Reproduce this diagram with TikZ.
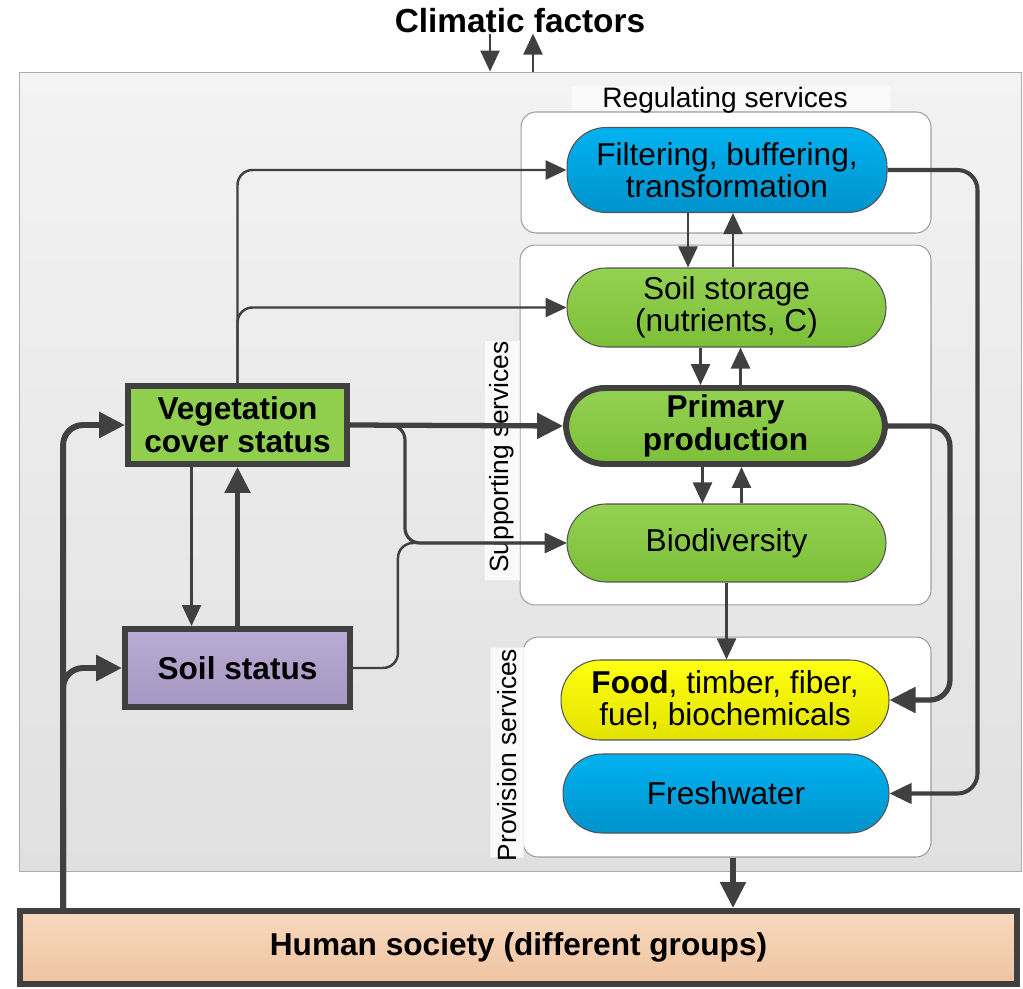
\documentclass[tikz,border=0pt]{standalone}
\usepackage{fontspec}
\setmainfont{Liberation Sans}
\usetikzlibrary{arrows.meta,calc}
\definecolor{ln}{HTML}{404040}
\definecolor{gtop}{HTML}{94D152}
\definecolor{gbot}{HTML}{7CBF38}
\definecolor{btop}{HTML}{00B2F0}
\definecolor{bbot}{HTML}{0093CC}
\definecolor{ytop}{HTML}{FFFF10}
\definecolor{ybot}{HTML}{E2E200}
\definecolor{ptop}{HTML}{BAACD3}
\definecolor{pbot}{HTML}{A696C2}
\definecolor{htop}{HTML}{F8D9BE}
\definecolor{hbot}{HTML}{EFC3A0}
\definecolor{otop}{HTML}{F3F3F3}
\definecolor{obot}{HTML}{E0E0E0}
\tikzset{
  pill/.style={draw=ln!90, line width=0.6pt, rounded corners=0.78cm, align=center,
    font=\fontsize{18}{18}\selectfont, inner sep=0pt},
  greenpill/.style={pill, top color=gtop, bottom color=gbot},
  bluepill/.style={pill, top color=btop, bottom color=bbot},
  container/.style={draw=gray!75, fill=white, rounded corners=0.3cm, line width=0.6pt, inner sep=0pt},
  boldbox/.style={draw=ln, line width=3.4pt, align=center, inner sep=0pt,
    font=\bfseries\fontsize{18}{19}\selectfont},
  seclabel/.style={font=\fontsize{15}{15}\selectfont, inner sep=0pt},
  thinarr/.style={draw=ln, line width=1.4pt, -{Triangle[length=0.42cm,width=0.38cm]}},
  midarr/.style={draw=ln, line width=1.8pt, -{Triangle[length=0.44cm,width=0.4cm]}},
  thickarr/.style={draw=ln, line width=3pt, -{Triangle[length=0.52cm,width=0.5cm]}},
}
\begin{document}
\begin{tikzpicture}[x=0.02cm,y=-0.02cm]
\useasboundingbox (0,0) rectangle (1023,989);

% outer environment box
\node[draw=gray!65, line width=0.6pt, top color=otop, bottom color=obot,
  minimum width=20.06cm, minimum height=16cm, inner sep=0pt] (outer) at (520.5,472) {};

\node[font=\bfseries\fontsize{19}{19}\selectfont, inner sep=0pt] (clim) at (520,21) {Climatic factors};

% containers
\node[container, minimum width=8.2cm, minimum height=2.42cm] (regbox) at (726,172.5) {};
\node[container, minimum width=8.22cm, minimum height=7.2cm] (supbox) at (725.5,425) {};
\node[container, minimum width=8.16cm, minimum height=4.4cm] (probox) at (727,747) {};

% section labels
\node[fill=gray!4, minimum width=6.36cm, minimum height=0.5cm, inner sep=0pt] (reglbg) at (731,99) {};
\node[seclabel, font=\fontsize{16}{16}\selectfont] (regl) at (725,100) {Regulating services};
\node[fill=gray!4, draw=gray!15, minimum width=0.7cm, minimum height=4.8cm, inner sep=0pt] (suplbg) at (502,460) {};
\node[seclabel, rotate=90] (supl) at (502,457) {Supporting services};
\node[fill=gray!4, draw=gray!15, minimum width=0.66cm, minimum height=4.2cm, inner sep=0pt] (prolbg) at (507,752) {};
\node[seclabel, rotate=90] (prol) at (507,755) {Provision services};

% service nodes
\node[bluepill, minimum width=6.4cm, minimum height=1.7cm] (filt) at (727,170) {Filtering, buffering,\\transformation};
\node[greenpill, minimum width=6.38cm, minimum height=1.58cm] (sstor) at (726.5,307.5) {Soil storage\\(nutrients, C)};
\node[greenpill, draw=ln, line width=3.4pt, minimum width=6.38cm, minimum height=1.52cm,
  font=\bfseries\fontsize{18}{19}\selectfont] (prim) at (725.5,426) {Primary\\production};
\node[greenpill, minimum width=6.38cm, minimum height=1.56cm] (bio) at (726.5,543) {Biodiversity};
\node[pill, top color=ytop, bottom color=ybot, minimum width=6.56cm, minimum height=1.6cm] (food) at (725,700)
  {\textbf{Food}, timber, fiber,\\fuel, biochemicals};
\node[bluepill, minimum width=6.52cm, minimum height=1.58cm] (fresh) at (726,793.5) {Freshwater};

% left boxes
\node[boldbox, fill=gtop!85!gbot, minimum width=4.38cm, minimum height=1.56cm] (veg) at (237.5,425) {Vegetation\\cover status};
\node[boldbox, top color=ptop, bottom color=pbot, minimum width=4.5cm, minimum height=1.56cm] (soil) at (237.5,668) {Soil status};

% human society
\node[boldbox, top color=htop, bottom color=hbot, minimum width=19.94cm, minimum height=1.46cm] (human) at (518.5,947.5) {Human society (different groups)};

% climatic arrows
\draw[thinarr] ([xshift=-0.6cm]clim.south) -- ([xshift=-0.6cm]clim.south |- outer.north);
\draw[thinarr] ([xshift=0.26cm]clim.south |- outer.north) -- ([xshift=0.26cm]clim.south);

% vegetation to regulating / supporting
\draw[thinarr, rounded corners=0.3cm] (veg.north) |- (filt.west);
\draw[thinarr, rounded corners=0.3cm] (veg.north) |- (sstor.west);
\draw[thickarr] (veg.east) -- (prim.west);
\draw[midarr, rounded corners=0.3cm] (veg.east) -- ++(55,0) |- (bio.west);
\draw[thinarr, rounded corners=0.3cm] (soil.east) -- ++(45,0) |- (bio.west);

% vegetation <-> soil
\draw[thinarr] ([xshift=-0.92cm]veg.south) -- ([xshift=-0.92cm]veg.south |- soil.north);
\draw[thickarr] (soil.north) -- (veg.south);

% vertical exchanges among services
\draw[thinarr] ([xshift=-0.78cm]filt.south) -- ([xshift=-0.78cm]filt.south |- sstor.north);
\draw[thinarr] ([xshift=0.12cm]filt.south |- sstor.north) -- ([xshift=0.12cm]filt.south);
\draw[thinarr] ([xshift=-0.52cm]sstor.south) -- ([xshift=-0.52cm]sstor.south |- prim.north);
\draw[thinarr] ([xshift=0.28cm]sstor.south |- prim.north) -- ([xshift=0.28cm]sstor.south);
\draw[thinarr] ([xshift=-0.46cm]prim.south) -- ([xshift=-0.46cm]prim.south |- bio.north);
\draw[thinarr] ([xshift=0.32cm]prim.south |- bio.north) -- ([xshift=0.32cm]prim.south);
\draw[thinarr] (bio.south) -- (bio.south |- food.north);

% outputs to provisioning
\draw[thickarr, rounded corners=0.4cm] (prim.east) -- ++(62,0) |- (food.east);
\draw[midarr, line width=2.3pt, rounded corners=0.4cm] (filt.east) -- ++(90,0) |- (fresh.east);

% provision to human society
\draw[thickarr] ([xshift=0.12cm]probox.south) -- ([xshift=0.12cm]probox.south |- human.north);

% human society feedback
\coordinate (hs) at ([xshift=0.92cm]human.north west);
\draw[thickarr, line width=3.4pt, rounded corners=0.4cm] (hs) |- (veg.west);
\draw[thickarr, line width=3.4pt, rounded corners=0.4cm] (hs) |- (soil.west);
\end{tikzpicture}
\end{document}
